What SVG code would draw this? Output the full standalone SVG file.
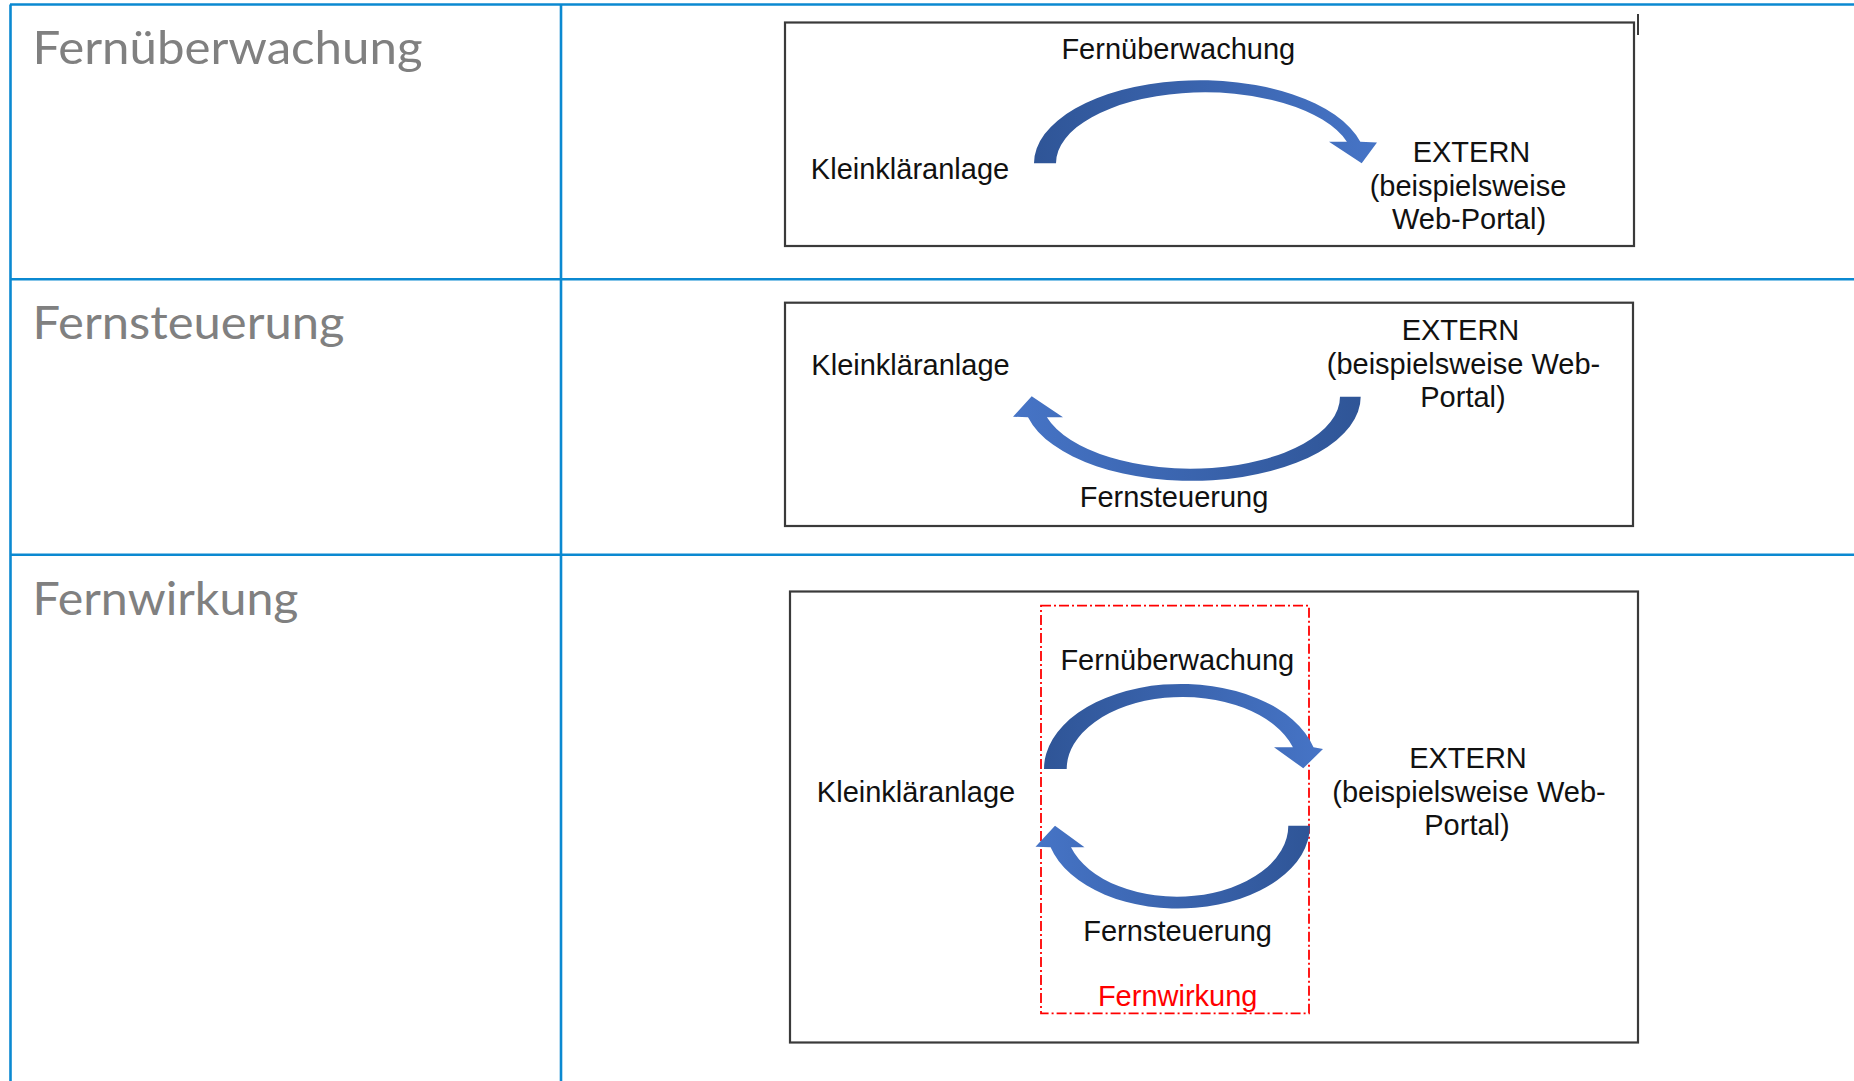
<svg xmlns="http://www.w3.org/2000/svg" width="1854" height="1081" viewBox="0 0 1854 1081">
  <style>
    .grid { stroke: #0b89d1; stroke-width: 2.6; fill: none; }
    .rowlabel { font-family: Lato, "Open Sans", "Noto Sans", sans-serif; font-size: 47px; fill: #808080; }
    .frame { fill: #ffffff; stroke: #3a3a3a; stroke-width: 2.2; }
    .lbl { font-family: "Liberation Sans", Arial, sans-serif; font-size: 29px; fill: #111111; text-anchor: middle; }
    .red { fill: #ff0000; }
    .scope { fill: none; stroke: #ff0000; stroke-width: 1.8; stroke-dasharray: 10 3 2 3; }
  </style>
  <defs>
    <linearGradient id="arcLR" x1="0" y1="0" x2="1" y2="0">
      <stop offset="0" stop-color="#2f5597"/>
      <stop offset="1" stop-color="#4674c6"/>
    </linearGradient>
    <linearGradient id="arcRL" x1="1" y1="0" x2="0" y2="0">
      <stop offset="0" stop-color="#2f5597"/>
      <stop offset="1" stop-color="#4674c6"/>
    </linearGradient>
  </defs>

  <rect width="1854" height="1081" fill="#ffffff"/>

  <!-- table grid -->
  <g id="table">
    <line class="grid" x1="10" y1="4.5" x2="1854" y2="4.5"/>
    <line class="grid" x1="10" y1="279.3" x2="1854" y2="279.3"/>
    <line class="grid" x1="10" y1="554.7" x2="1854" y2="554.7"/>
    <line class="grid" x1="10.5" y1="4.5" x2="10.5" y2="1081"/>
    <line class="grid" x1="561" y1="4.5" x2="561" y2="1081"/>
  </g>

  <!-- row titles -->
  <g id="row-titles">
    <text class="rowlabel" x="32.5" y="64" textLength="390" lengthAdjust="spacingAndGlyphs">Fernüberwachung</text>
    <text class="rowlabel" x="32.5" y="339.3" textLength="312" lengthAdjust="spacingAndGlyphs">Fernsteuerung</text>
    <text class="rowlabel" x="32.5" y="614.5" textLength="266" lengthAdjust="spacingAndGlyphs">Fernwirkung</text>
  </g>

  <!-- panel 1: monitoring -->
  <g id="panel-monitoring">
    <rect class="frame" x="785" y="22.5" width="849" height="223.5"/>
    <line x1="1638" y1="14" x2="1638" y2="35" stroke="#3a3a3a" stroke-width="2"/>
    <text class="lbl" x="1178.3" y="59.3">Fernüberwachung</text>
    <text class="lbl" x="910" y="178.5">Kleinkläranlage</text>
    <text class="lbl" x="1471.5" y="161.7">EXTERN</text>
    <text class="lbl" x="1468" y="196">(beispielsweise</text>
    <text class="lbl" x="1469" y="228.5">Web-Portal)</text>
  </g>

  <!-- panel 2: control -->
  <g id="panel-control">
    <rect class="frame" x="785" y="302.7" width="848" height="223.3"/>
    <text class="lbl" x="910.5" y="374.5">Kleinkläranlage</text>
    <text class="lbl" x="1460.5" y="340">EXTERN</text>
    <text class="lbl" x="1463.5" y="373.5">(beispielsweise Web-</text>
    <text class="lbl" x="1463" y="407">Portal)</text>
    <text class="lbl" x="1174" y="507">Fernsteuerung</text>
  </g>

  <!-- panel 3: combined telecontrol -->
  <g id="panel-telecontrol">
    <rect class="frame" x="790" y="591.5" width="848" height="451"/>
    <rect class="scope" x="1041" y="605.7" width="268" height="407.6"/>
    <text class="lbl" x="1177.3" y="669.5">Fernüberwachung</text>
    <text class="lbl" x="916" y="801.7">Kleinkläranlage</text>
    <text class="lbl" x="1468" y="768.3">EXTERN</text>
    <text class="lbl" x="1469" y="801.7">(beispielsweise Web-</text>
    <text class="lbl" x="1467" y="835">Portal)</text>
    <text class="lbl" x="1177.6" y="940.5">Fernsteuerung</text>
    <text class="lbl red" x="1177.7" y="1005.5">Fernwirkung</text>
  </g>

  <!-- curved block arrows -->
  <g id="connectors">
    <path fill="url(#arcLR)" d="M1034,163.3 A166,83 0 0 1 1360.3,141.7 L1377,142.5 L1361.7,163.3 L1329,141.7 L1346.9,141.7 A149,71 0 0 0 1056,163.3 Z"/>
    <path fill="url(#arcRL)" d="M1360.7,396.7 A168.9,84 0 0 1 1028,417.3 L1013,416.7 L1031.7,396.3 L1063,417.3 L1046.9,417.3 A149.7,72 0 0 0 1340,396.7 Z"/>
    <path fill="url(#arcLR)" d="M1044,769 A137,85 0 0 1 1313.5,747.3 L1323,749 L1303.3,768.3 L1274,747.3 L1292.9,747.3 A115.8,72 0 0 0 1066.7,769 Z"/>
    <path fill="url(#arcRL)" d="M1310,825.7 A132,83 0 0 1 1050.6,847.3 L1035.5,846.7 L1055,825.7 L1084.5,847.3 L1071,847.3 A111.3,71 0 0 0 1288.3,825.7 Z"/>
  </g>
</svg>
